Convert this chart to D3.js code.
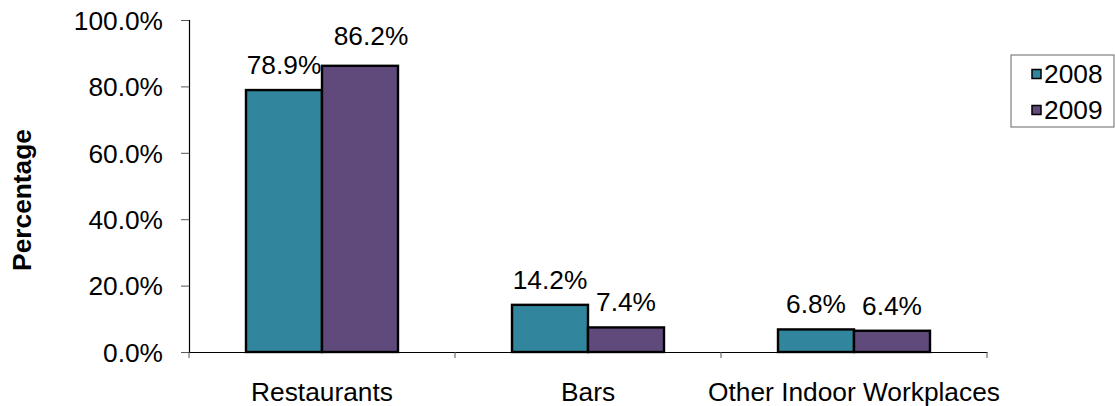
<!DOCTYPE html>
<html>
<head>
<meta charset="utf-8">
<script src="https://cdn.jsdelivr.net/npm/d3@7/dist/d3.min.js"></script>
<style>
  body { margin: 0; background: #fff; }
  text { font-family: "Liberation Sans", Arial, sans-serif; fill: #000; }
</style>
</head>
<body>
<script>
const categories = ["Restaurants", "Bars", "Other Indoor Workplaces"];
const series = ["2008", "2009"];
const values2008 = [0.789, 0.142, 0.068];
const values2009 = [0.862, 0.074, 0.064];
const yTicks = [0, 0.2, 0.4, 0.6, 0.8, 1.0];
const colors = ["#31859c", "#604a7b"];

const data = categories.map((c, i) => ({
  cat: c,
  vals: [
    { s: series[0], v: values2008[i] },
    { s: series[1], v: values2009[i] }
  ]
}));

const W = 1115, H = 406;
const margin = { top: 20, left: 189, right: 128, bottom: 54 };
const fs = "26.3px";

const svg = d3.select("body").append("svg")
  .attr("width", W).attr("height", H);

const x0 = d3.scaleBand().domain(categories)
  .range([margin.left, W - margin.right]).padding(0);
const x1 = d3.scaleBand().domain(series)
  .range([0, x0.bandwidth()]).paddingInner(0).paddingOuter(0.75);
const y = d3.scaleLinear().domain([0, 1]).range([H - margin.bottom, margin.top]);

// y axis
const yAxis = svg.append("g")
  .attr("transform", `translate(${margin.left},0)`)
  .call(d3.axisLeft(y).tickValues(yTicks).tickSize(8).tickPadding(18)
    .tickFormat(d => (d * 100).toFixed(1) + "%"));
yAxis.select(".domain").attr("stroke", "#000").attr("stroke-width", 1.2);
yAxis.selectAll(".tick line").attr("stroke", "#555");
yAxis.selectAll(".tick text").style("font-size", fs).attr("dy", "0.35em");

// bars
const groups = svg.selectAll("g.cat").data(data).join("g")
  .attr("class", "cat")
  .attr("transform", d => `translate(${x0(d.cat)},0)`);

groups.selectAll("rect").data(d => d.vals).join("rect")
  .attr("x", d => x1(d.s))
  .attr("y", d => y(d.v))
  .attr("width", x1.bandwidth())
  .attr("height", d => y(0) - y(d.v))
  .attr("fill", (d, i) => colors[i])
  .attr("stroke", "#000")
  .attr("stroke-width", 2.4);

// value labels (the 86.2% one is nudged like in the original)
groups.selectAll("text.lbl").data((d, ci) => d.vals.map((v, i) => ({ ...v, ci, i }))).join("text")
  .attr("class", "lbl")
  .attr("x", d => x1(d.s) + x1.bandwidth() / 2 + (d.ci === 0 && d.i === 1 ? 11 : 0))
  .attr("y", d => y(d.v) - 16 - (d.ci === 0 && d.i === 1 ? 5 : 0))
  .attr("text-anchor", "middle")
  .style("font-size", fs)
  .text(d => (d.v * 100).toFixed(1) + "%");

// x axis
const xAxis = svg.append("g")
  .attr("transform", `translate(0,${y(0)})`)
  .call(d3.axisBottom(x0).tickSize(0).tickPadding(30));
xAxis.select(".domain").attr("stroke", "#000").attr("stroke-width", 1.2);
xAxis.selectAll(".tick text").style("font-size", fs).attr("dy", "0.71em");
svg.append("g").selectAll("line")
  .data(categories.map(c => x0(c)).concat([x0.range()[1]]))
  .join("line")
  .attr("x1", d => d).attr("x2", d => d)
  .attr("y1", y(0)).attr("y2", y(0) + 6)
  .attr("stroke", "#555");

// y title
svg.append("text")
  .attr("transform", `translate(31,${(y(0) + y(1)) / 2 + 14}) rotate(-90)`)
  .attr("text-anchor", "middle")
  .style("font-size", fs).style("font-weight", "bold")
  .text("Percentage");

// legend
const lg = svg.append("g").attr("transform", "translate(1011,55)");
lg.append("rect").attr("width", 103).attr("height", 72)
  .attr("fill", "#fff").attr("stroke", "#666").attr("stroke-width", 1);
series.forEach((s, i) => {
  const row = lg.append("g").attr("transform", `translate(21,${19 + i * 36})`);
  row.append("rect").attr("x", 0).attr("y", -4.5).attr("width", 9).attr("height", 9)
    .attr("fill", colors[i]).attr("stroke", "#000").attr("stroke-width", 1.5);
  row.append("text").attr("x", 12).attr("dy", "0.36em")
    .style("font-size", fs).text(s);
});
</script>
</body>
</html>
